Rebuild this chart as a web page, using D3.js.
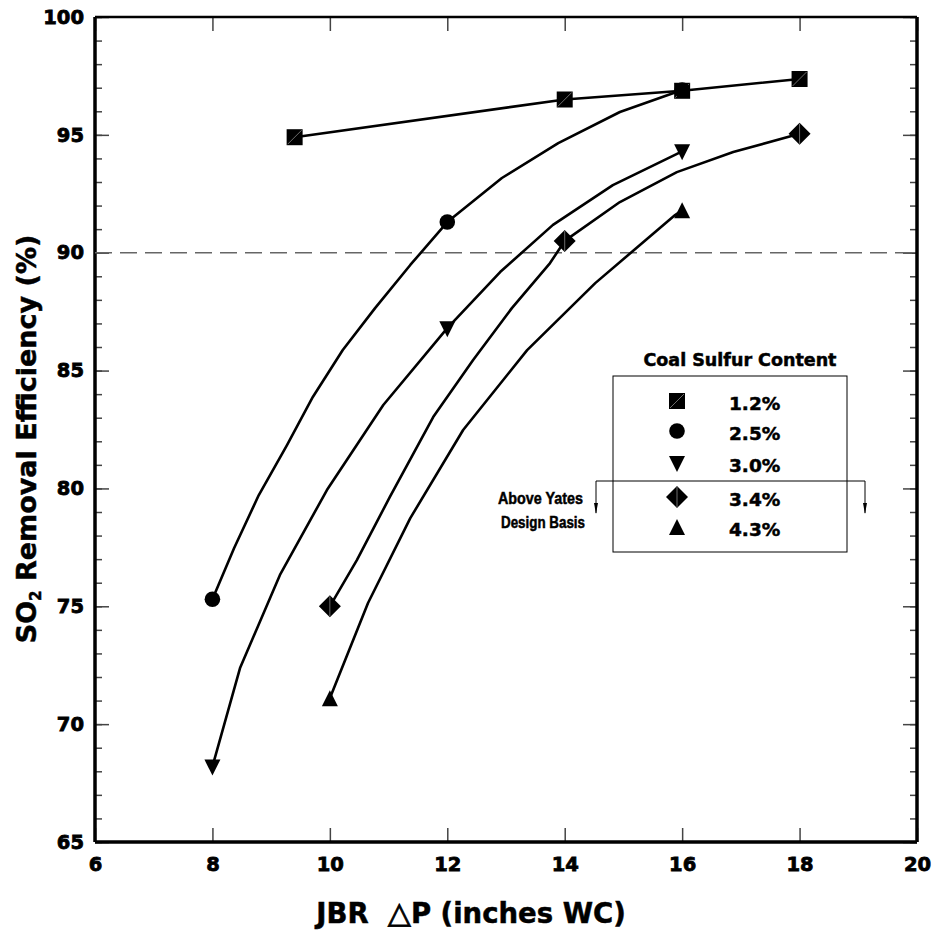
<!DOCTYPE html>
<html lang="en">
<head>
<meta charset="UTF-8">
<title>SO2 Removal Efficiency vs JBR dP</title>
<script src="https://d3js.org/d3.v7.min.js"></script>
<style>
    body { margin: 0; background: #fff; }
    svg text { font-family: "DejaVu Sans", sans-serif; font-weight: bold; fill: #000; stroke: #000; stroke-width: 0.5px; }
</style>
</head>
<body>
<svg id="chart" width="935" height="943"></svg>
<script>
// series labels (coal sulfur content)
const sulfur = ["1.2%", "2.5%", "3.0%", "3.4%", "4.3%"];

// data points (markers) per series
const ptsX = [
    [9.4, 14, 16, 18],
    [8, 12, 16],
    [8, 12, 16],
    [10, 14, 18],
    [10, 16]
];
const ptsY = [
    [94.9, 96.5, 96.87, 97.37],
    [75.3, 91.3, 96.9],
    [68.2, 86.8, 94.3],
    [75.0, 90.5, 95.05],
    [71.1, 91.8]
];

// fitted curve
const curveX = [
    [9.4, 14, 16, 18],
    [8.0, 8.37, 8.79, 9.27, 9.71, 10.22, 10.77, 11.37, 12.0, 12.93, 13.89, 14.94, 16.0],
    [8.0, 8.47, 9.15, 9.95, 10.91, 12.0, 12.9, 13.8, 14.82, 16.0],
    [10.0, 10.46, 11.02, 11.76, 12.44, 13.1, 13.75, 14.0, 14.94, 15.91, 16.87, 18.0],
    [10.0, 10.65, 11.37, 12.27, 13.36, 14.52, 15.88, 16.0]
];
const curveY = [
    [94.9, 96.5, 96.87, 97.37],
    [75.3, 77.47, 79.72, 81.84, 83.88, 85.87, 87.65, 89.48, 91.3, 93.17, 94.65, 95.97, 96.9],
    [68.2, 72.38, 76.33, 79.93, 83.54, 86.8, 89.18, 91.18, 92.87, 94.3],
    [75.0, 76.96, 79.63, 83.03, 85.45, 87.65, 89.56, 90.5, 92.15, 93.42, 94.27, 95.05],
    [71.1, 75.14, 78.74, 82.48, 85.87, 88.71, 91.6, 91.8]
];

const xTicks = [6, 8, 10, 12, 14, 16, 18, 20];
const yTicks = [65, 70, 75, 80, 85, 90, 95, 100];
const refLine = 90;

const svg = d3.select("#chart");
const pLeft = 95, pRight = 917, pTop = 17, pBottom = 842;

const x = d3.scaleLinear().domain([6, 20]).range([pLeft, pRight]);
const y = d3.scaleLinear().domain([65, 100]).range([pBottom, pTop]);

// minor ticks on left and right
const minor = d3.range(65, 101, 1);
svg.append("g").attr("transform", `translate(${pLeft},0)`)
    .call(d3.axisLeft(y).tickValues(minor).tickSize(-7).tickFormat(""))
    .call(g => g.select(".domain").remove());
svg.append("g").attr("transform", `translate(${pRight},0)`)
    .call(d3.axisRight(y).tickValues(minor).tickSize(-7).tickFormat(""))
    .call(g => g.select(".domain").remove());

// major y ticks + labels
svg.append("g").attr("class", "yaxis").attr("transform", `translate(${pLeft},0)`)
    .call(d3.axisLeft(y).tickValues(yTicks).tickSize(-14).tickPadding(11).tickFormat(d3.format("d")))
    .call(g => g.select(".domain").remove());
svg.append("g").attr("transform", `translate(${pRight},0)`)
    .call(d3.axisRight(y).tickValues(yTicks).tickSize(-14).tickFormat(""))
    .call(g => g.select(".domain").remove());

// x ticks bottom + labels, top ticks
svg.append("g").attr("class", "xaxis").attr("transform", `translate(0,${pBottom})`)
    .call(d3.axisBottom(x).tickValues(xTicks).tickSize(-14).tickPadding(15).tickFormat(d3.format("d")))
    .call(g => g.select(".domain").remove());
svg.append("g").attr("transform", `translate(0,${pTop})`)
    .call(d3.axisTop(x).tickValues(xTicks).tickSize(-14).tickFormat(""))
    .call(g => g.select(".domain").remove());

svg.selectAll(".tick line").attr("stroke", "#444").attr("stroke-width", 1.5);
svg.selectAll(".yaxis text, .xaxis text")
    .style("font-size", "19.5px").style("stroke-width", "0.8px");

// frame
svg.append("line").attr("x1", pLeft).attr("x2", pRight).attr("y1", pTop).attr("y2", pTop)
    .attr("stroke", "#000").attr("stroke-width", 2.5);
svg.append("line").attr("x1", pLeft).attr("x2", pRight).attr("y1", pBottom).attr("y2", pBottom)
    .attr("stroke", "#000").attr("stroke-width", 3.5);
svg.append("line").attr("x1", pLeft).attr("x2", pLeft).attr("y1", pTop).attr("y2", pBottom)
    .attr("stroke", "#000").attr("stroke-width", 3.5);
svg.append("line").attr("x1", pRight).attr("x2", pRight).attr("y1", pTop).attr("y2", pBottom)
    .attr("stroke", "#000").attr("stroke-width", 3.5);

// 90% reference line
svg.append("line")
    .attr("x1", pLeft).attr("x2", pRight)
    .attr("y1", y(refLine)).attr("y2", y(refLine))
    .attr("stroke", "#666").attr("stroke-width", 1.5)
    .attr("stroke-dasharray", "17,8");

// curves
const line = d3.line().x(d => x(d[0])).y(d => y(d[1]));
curveX.forEach((xs, i) => {
    const pts = xs.map((v, j) => [v, curveY[i][j]]);
    svg.append("path").attr("d", line(pts))
        .attr("fill", "none").attr("stroke", "#000").attr("stroke-width", 2.6)
        .attr("stroke-linejoin", "round");
});

// marker drawing
function drawMarker(g, kind, cx, cy) {
    const m = g.append("g").attr("transform", `translate(${cx},${cy})`);
    if (kind === 0) {
        m.append("rect").attr("x", -8).attr("y", -8).attr("width", 16).attr("height", 16).attr("fill", "#000");
        m.append("line").attr("x1", -7).attr("y1", 7).attr("x2", 7).attr("y2", -7)
            .attr("stroke", "#888").attr("stroke-width", 0.8);
    } else if (kind === 1) {
        m.append("circle").attr("r", 7.8).attr("fill", "#000");
    } else if (kind === 2) {
        m.append("path").attr("d", "M-8,-7 L8,-7 L0,9 Z").attr("fill", "#000");
    } else if (kind === 3) {
        m.append("path").attr("d", "M0,-11 L11,0 L0,11 L-11,0 Z").attr("fill", "#000");
        m.append("line").attr("x1", 0).attr("y1", -10).attr("x2", 0).attr("y2", 10)
            .attr("stroke", "#888").attr("stroke-width", 0.8);
    } else {
        m.append("path").attr("d", "M-8,8 L8,8 L0,-8 Z").attr("fill", "#000");
    }
}

ptsX.forEach((xs, i) => {
    xs.forEach((v, j) => drawMarker(svg, i, x(v), y(ptsY[i][j])));
});

// legend
const legend = svg.append("g");
legend.append("text").attr("x", 740).attr("y", 366).attr("text-anchor", "middle")
    .style("font-size", "17.5px").text("Coal Sulfur Content");
legend.append("rect").attr("x", 613).attr("y", 376).attr("width", 234).attr("height", 176)
    .attr("fill", "none").attr("stroke", "#000").attr("stroke-width", 1);
const rowY = [401, 431, 463, 497, 527];
sulfur.forEach((s, i) => {
    drawMarker(legend, i, 677, rowY[i]);
    legend.append("text").attr("x", 729).attr("y", rowY[i] + 2).attr("dy", "0.36em")
        .style("font-size", "18.5px").text(s);
});

// "Above Yates Design Basis" bracket
const br = svg.append("g");
br.append("path").attr("d", "M596,513 L596,481 L865,481 L865,513")
    .attr("fill", "none").attr("stroke", "#000").attr("stroke-width", 1);
[596, 865].forEach(ax => {
    br.append("path").attr("d", `M${ax - 2},503 L${ax + 2},503 L${ax},514 Z`).attr("fill", "#000");
});
br.append("text").attr("x", 498).attr("y", 504)
    .attr("textLength", 85).attr("lengthAdjust", "spacingAndGlyphs")
    .style("font-family", "'Liberation Sans', Arial, sans-serif")
    .style("font-size", "17px").text("Above Yates");
br.append("text").attr("x", 501).attr("y", 528)
    .attr("textLength", 84).attr("lengthAdjust", "spacingAndGlyphs")
    .style("font-family", "'Liberation Sans', Arial, sans-serif")
    .style("font-size", "17px").text("Design Basis");

// axis titles
const xt = svg.append("text").attr("x", 471).attr("y", 923).attr("text-anchor", "middle")
    .style("font-size", "27.5px").attr("xml:space", "preserve");
xt.append("tspan").text("JBR  ");
xt.append("tspan").style("font-weight", "normal").style("font-size", "30px").style("stroke-width", "0.9px").text("\u25B3");
xt.append("tspan").text("P (inches WC)");

const yt = svg.append("text")
    .attr("transform", "translate(36,439) rotate(-90)")
    .attr("text-anchor", "middle")
    .style("font-size", "27px");
yt.append("tspan").text("SO");
yt.append("tspan").attr("dy", 5).style("font-size", "15px").text("2");
yt.append("tspan").attr("dy", -5).text(" Removal Efficiency (%)");
</script>
</body>
</html>
